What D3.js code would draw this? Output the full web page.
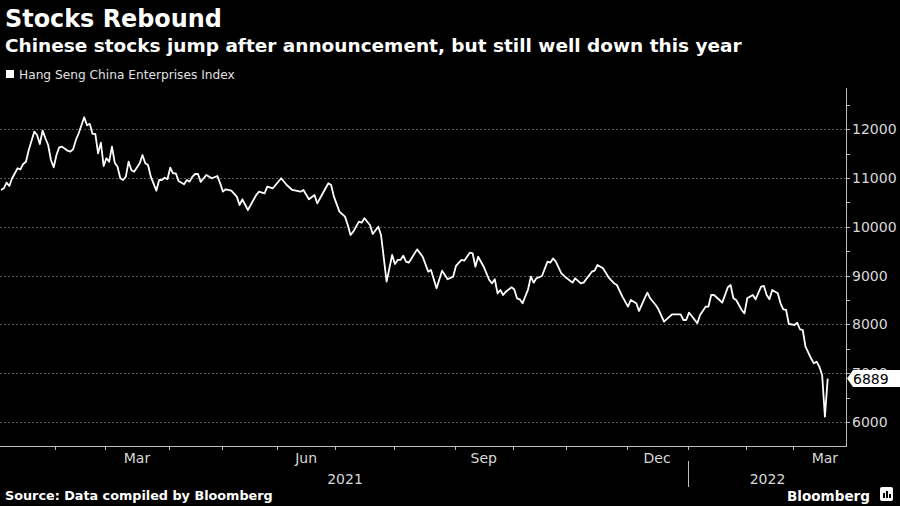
<!DOCTYPE html>
<head>
<meta charset="utf-8">
<script src="https://d3js.org/d3.v7.min.js"></script>
<style>
body{ margin:0; background:#000; }
svg{ display:block; background:#000; }
text{ font-family: "DejaVu Sans", sans-serif; }
text.title{ font-size:24px; font-weight:700; fill:#fff; }
text.subTitle{ font-size:18px; font-weight:700; fill:#fff; }
text.legend{ font-size:12px; fill:#e0e0e0; }
text.caption{ font-size:13px; font-weight:700; fill:#fff; }
text.brand{ font-size:16px; font-weight:700; fill:#fff; }
text.tickLabel{ font-size:14px; fill:#d8d8d8; }
text.lastValue{ font-size:14px; fill:#000; }
line.grid{ stroke:#5a5a5a; stroke-dasharray:2,2; }
line.axis, line.tick{ stroke:#bdbdbd; }
</style>
</head>
<body>
<script>
const width = 900;
const height = 506;

const title    = "Stocks Rebound";
const subTitle = "Chinese stocks jump after announcement, but still well down this year";
const legend   = "Hang Seng China Enterprises Index";
const credit   = "Source: Data compiled by Bloomberg";

// trading-day index since 4 Jan 2021, and index close
const tradingDay = [0,1,2,3,4,6,7,8,9,10,12,13,14,15,16,17,18,19,20,21,22,24,25,26,27,28,30,31,32,33,34,35,36,37,38,39,40,41,42,43,44,45,46,47,48,50,51,52,53,54,56,57,58,59,60,61,62,63,64,66,67,68,69,70,71,72,74,76,78,79,80,81,83,85,86,87,89,90,92,93,95,96,98,101,103,105,108,109,111,113,114,116,118,119,120,122,124,125,126,127,129,130,131,133,134,136,137,139,141,142,143,144,145,146,147,150,152,154,155,157,159,161,163,164,166,167,169,170,171,172,174,176,177,178,179,180,181,182,184,185,186,187,188,190,191,192,193,195,197,198,199,200,202,204,206,207,209,210,213,214,215,217,219,221,222,224,226,227,229,230,232,233,234,236,237,239,241,242,245,246,247,248,249,251,252,254,255,256,257,259,260,262,263,264,265,267,268,269,271,272,274,275,276,277,278,280,281,282,283,284,286,287,288,289,290,292,293,294,295,296,297,298];
const closeValue = [10754,10789,10904,10836,10994,11199,11178,11287,11334,11574,11949,11881,11697,11970,11814,11676,11369,11219,11471,11629,11643,11560,11539,11588,11779,11916,12244,12080,12110,11902,11902,11506,11725,11246,11404,11334,11643,11314,11232,10994,10959,11027,11334,11164,11129,11301,11471,11301,11266,11027,10740,10959,10959,11006,10973,11211,11096,11096,10940,10870,10960,10925,11027,11082,11082,10920,11061,10994,11041,10891,10720,10768,10740,10618,10447,10563,10344,10447,10652,10720,10686,10823,10789,10994,10857,10754,10720,10754,10563,10652,10481,10686,10891,10857,10618,10310,10208,10037,9832,9900,10105,10084,10174,10037,9852,10002,9832,8875,9422,9238,9320,9320,9408,9285,9264,9537,9387,9080,9115,8740,9101,8924,8978,9197,9320,9306,9470,9457,9182,9387,9182,8910,8842,8924,8637,8705,8602,8670,8760,8719,8535,8514,8432,8719,8978,8855,8944,8992,9285,9264,9352,9285,9047,8944,8855,8944,8842,8855,9080,9101,9217,9149,8965,8842,8807,8568,8363,8500,8432,8275,8535,8650,8535,8398,8309,8055,8158,8207,8207,8090,8090,8240,8172,8022,8193,8363,8363,8602,8602,8500,8445,8760,8807,8535,8500,8295,8227,8535,8602,8514,8773,8787,8602,8514,8705,8637,8432,8309,8295,8008,7988,8035,7900,7885,7543,7305,7202,7236,7133,6963,6109,6889];
const lastValue = 6889;

const yTicks      = [6000,7000,8000,9000,10000,11000,12000];
const yMinorTicks = [6500,7500,8500,9500,10500,11500,12500];

// first trading day of each month, Feb 2021 .. Mar 2022
const monthStartDay  = [20,38,61,80,100,121,142,164,185,204,226,248,269,286];
const monthLabels    = ["Mar","Jun","Sep","Dec","Mar"];
const monthLabelFrom = [38,100,164,226,286];
const monthLabelTo   = [61,121,185,248,309];
const yearLabels     = ["2021","2022"];
const yearFrom       = [0,248];
const yearTo         = [248,304.6];
const yearBreakDay   = 248;

const svg = d3.select("body").append("svg")
   .attr("width", width)
   .attr("height", height);

const plot = { left:0, right:846, top:90, bottom:446 };

const x = d3.scaleLinear()
   .domain([-0.36, 304.6])
   .range([plot.left, plot.right]);

const y = d3.scaleLinear()
   .domain([5508, 12803])
   .range([plot.bottom, plot.top]);

function fitWidth(sel, w){
   const n = sel.node();
   const cur = n.getComputedTextLength();
   const fs = parseFloat(getComputedStyle(n).fontSize);
   sel.style("font-size", (fs * w / cur) + "px");
}

// titles
fitWidth(svg.append("text").attr("class","title").attr("x",5).attr("y",27).text(title), 217);
fitWidth(svg.append("text").attr("class","subTitle").attr("x",5).attr("y",52).text(subTitle), 737);

svg.append("rect").attr("x",6).attr("y",70).attr("width",8).attr("height",8).attr("fill","#fff");
fitWidth(svg.append("text").attr("class","legend").attr("x",19).attr("y",79).text(legend), 216);

// gridlines
svg.append("g").selectAll("line")
   .data(yTicks)
   .join("line")
   .attr("class","grid")
   .attr("x1", plot.left).attr("x2", plot.right)
   .attr("y1", d => Math.round(y(d))+0.5).attr("y2", d => Math.round(y(d))+0.5);

// right axis
const yAxisG = svg.append("g");
yAxisG.append("line").attr("class","axis")
   .attr("x1", plot.right+0.5).attr("x2", plot.right+0.5)
   .attr("y1", plot.top-2).attr("y2", plot.bottom);
yAxisG.selectAll("line.tick")
   .data(yTicks.concat(yMinorTicks))
   .join("line")
   .attr("class","tick")
   .attr("x1", plot.right).attr("x2", plot.right+4)
   .attr("y1", d => Math.round(y(d))+0.5).attr("y2", d => Math.round(y(d))+0.5);
yAxisG.selectAll("text")
   .data(yTicks)
   .join("text")
   .attr("class","tickLabel")
   .attr("x", plot.right+6)
   .attr("y", d => y(d))
   .attr("dy","0.36em")
   .text(d => d);

// bottom axis
const xAxisG = svg.append("g");
xAxisG.append("line").attr("class","axis")
   .attr("x1", plot.left).attr("x2", plot.right+1)
   .attr("y1", plot.bottom+0.5).attr("y2", plot.bottom+0.5);
xAxisG.selectAll("line.tick")
   .data(monthStartDay)
   .join("line")
   .attr("class","tick")
   .attr("x1", d => Math.round(x(d-0.5))+0.5).attr("x2", d => Math.round(x(d-0.5))+0.5)
   .attr("y1", plot.bottom).attr("y2", plot.bottom+4);
xAxisG.selectAll("text.month")
   .data(monthLabels)
   .join("text")
   .attr("class","tickLabel month")
   .attr("x", (d,i) => x((monthLabelFrom[i]+monthLabelTo[i])/2 - 0.5))
   .attr("y", 463)
   .attr("text-anchor","middle")
   .text(d => d);
xAxisG.selectAll("text.year")
   .data(yearLabels)
   .join("text")
   .attr("class","tickLabel year")
   .attr("x", (d,i) => x((yearFrom[i]+yearTo[i])/2))
   .attr("y", 484)
   .attr("text-anchor","middle")
   .text(d => d);
xAxisG.append("line").attr("class","tick")
   .attr("x1", Math.round(x(yearBreakDay-0.5))+0.5).attr("x2", Math.round(x(yearBreakDay-0.5))+0.5)
   .attr("y1", 461).attr("y2", 487);

// the line
const series = tradingDay.map((d,i) => ({day:d, value:closeValue[i]}));
svg.append("path")
   .datum(series)
   .attr("fill","none")
   .attr("stroke","#fff")
   .attr("stroke-width",1.8)
   .attr("stroke-linejoin","round")
   .attr("d", d3.line().x(d => x(d.day)).y(d => y(d.value)));

// last value tag
const ly = y(lastValue);
svg.append("path")
   .attr("fill","#fff")
   .attr("d", `M${plot.right+1},${ly} L${plot.right+7},${ly-8.5} L${width},${ly-8.5} L${width},${ly+8.5} L${plot.right+7},${ly+8.5} Z`);
svg.append("text")
   .attr("class","lastValue")
   .attr("x", plot.right+7)
   .attr("y", ly)
   .attr("dy","0.36em")
   .text(lastValue);

// footer
fitWidth(svg.append("text").attr("class","caption").attr("x",5).attr("y",500).text(credit), 268);
fitWidth(svg.append("text").attr("class","brand").attr("x",787).attr("y",501).text("Bloomberg"), 83);
const logo = svg.append("g").attr("transform","translate(880,487)");
logo.append("rect").attr("width",13).attr("height",14).attr("rx",2).attr("fill","#fff");
logo.append("rect").attr("x",3).attr("y",6).attr("width",2).attr("height",5).attr("fill","#000");
logo.append("rect").attr("x",6).attr("y",4).attr("width",2).attr("height",7).attr("fill","#000");
logo.append("rect").attr("x",9).attr("y",7).attr("width",2).attr("height",4).attr("fill","#000");
</script>
</body>
